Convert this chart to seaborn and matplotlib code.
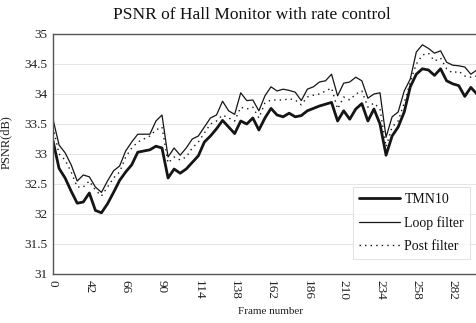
import numpy as np
import pandas as pd
import matplotlib
matplotlib.use("Agg")
import matplotlib.pyplot as plt
import seaborn as sns

# PSNR per coded frame (sample index along the sequence)
tmn10 = [33.22, 32.76, 32.60, 32.38, 32.18, 32.20, 32.35, 32.06, 32.02, 32.17,
         32.36, 32.56, 32.70, 32.82, 33.03, 33.05, 33.07, 33.13, 33.10, 32.60,
         32.75, 32.68, 32.75, 32.86, 32.97, 33.20, 33.30, 33.42, 33.56, 33.45,
         33.34, 33.55, 33.50, 33.60, 33.40, 33.60, 33.76, 33.65, 33.62, 33.68,
         33.62, 33.64, 33.72, 33.76, 33.80, 33.83, 33.86, 33.55, 33.72, 33.58,
         33.75, 33.84, 33.55, 33.75, 33.50, 32.98, 33.30, 33.45, 33.70, 34.12,
         34.33, 34.42, 34.40, 34.31, 34.42, 34.22, 34.17, 34.14, 33.96, 34.11,
         34.00, 34.20]
loop_filter = [33.58, 33.15, 33.02, 32.82, 32.55, 32.65, 32.62, 32.45, 32.36, 32.55,
               32.72, 32.80, 33.05, 33.20, 33.33, 33.33, 33.33, 33.55, 33.65, 32.95,
               33.10, 32.98, 33.10, 33.25, 33.30, 33.45, 33.60, 33.65, 33.88, 33.72,
               33.66, 34.02, 33.89, 33.90, 33.72, 33.97, 34.12, 34.05, 34.08, 34.06,
               34.03, 33.89, 34.08, 34.12, 34.20, 34.22, 34.33, 33.97, 34.18, 34.20,
               34.28, 34.22, 33.93, 34.00, 34.02, 33.28, 33.62, 33.70, 34.05, 34.25,
               34.70, 34.82, 34.76, 34.68, 34.72, 34.53, 34.48, 34.47, 34.45, 34.33,
               34.40, 34.45]
post_filter = [33.45, 33.00, 32.90, 32.70, 32.45, 32.45, 32.55, 32.40, 32.30, 32.45,
               32.60, 32.70, 32.95, 33.10, 33.20, 33.25, 33.30, 33.40, 33.45, 32.85,
               32.95, 32.90, 32.95, 33.10, 33.20, 33.35, 33.50, 33.55, 33.65, 33.60,
               33.55, 33.78, 33.75, 33.78, 33.60, 33.85, 33.90, 33.90, 33.90, 33.92,
               33.90, 33.82, 33.95, 33.98, 34.00, 34.05, 34.10, 33.75, 33.95, 33.90,
               34.00, 34.05, 33.78, 33.85, 33.75, 33.12, 33.45, 33.55, 33.85, 34.20,
               34.50, 34.65, 34.68, 34.55, 34.60, 34.42, 34.35, 34.38, 34.30, 34.28,
               34.30, 34.35]

frame_labels = ["0", "42", "66", "90", "114", "138", "162", "186", "210", "234", "258", "282"]
ytick_values = [31, 31.5, 32, 32.5, 33, 33.5, 34, 34.5, 35]
ytick_labels = ["31", "31.5", "32", "32.5", "33", "33.5", "34", "34.5", "35"]
series_names = ["TMN10", "Loop filter", "Post filter"]

sns.set_theme(style="white")
plt.rcParams["font.family"] = ["Liberation Serif", "DejaVu Serif"]

W, H = 476, 323
fig = plt.figure(figsize=(W / 100, H / 100), dpi=100)
ax = fig.add_axes([53 / W, (H - 274) / H, (489 - 53) / W, 240 / H])

idx = np.arange(len(tmn10))
df = pd.DataFrame({"idx": idx, "TMN10": tmn10, "Loop filter": loop_filter,
                   "Post filter": post_filter})

ink = "#151515"
sns.lineplot(data=df, x="idx", y="TMN10", ax=ax, color=ink, lw=2.0, label=series_names[0])
sns.lineplot(data=df, x="idx", y="Loop filter", ax=ax, color=ink, lw=0.9, label=series_names[1])
sns.lineplot(data=df, x="idx", y="Post filter", ax=ax, color=ink, lw=1.0,
             linestyle=(0, (1, 3)), label=series_names[2])

ax.set_xlim(0, 72)
ax.set_ylim(31, 35)
ax.set_yticks(ytick_values)
ax.set_yticklabels(ytick_labels, fontsize=9.5, color="#222222")
ax.set_xticks(np.arange(0, 6 * len(frame_labels), 6))
ax.set_xticklabels(frame_labels, rotation=-90, fontsize=9.5, color="#222222")
ax.tick_params(axis="both", length=0, pad=4)

ax.grid(axis="y", color="#e4e4e4", lw=0.7)
ax.grid(axis="x", visible=False)
for side in ["left", "bottom", "top"]:
    ax.spines[side].set_color("#555555")
    ax.spines[side].set_linewidth(1.0)
ax.spines["right"].set_visible(False)

ax.set_xlabel("Frame number", fontsize=8, color="#222222", labelpad=5)
ax.set_ylabel("PSNR(dB)", fontsize=9, color="#222222", labelpad=2)
ax.yaxis.set_label_coords(-0.095, 0.55)

fig.text(252 / W, 1 - 15 / H, "PSNR of Hall Monitor with rate control",
         ha="center", va="center", fontsize=12.5, color="#111111")

leg = ax.legend(loc="upper left", bbox_to_anchor=(353 / W, 1 - 187 / H),
                bbox_transform=fig.transFigure, frameon=True, fancybox=False,
                fontsize=10, handlelength=3.0, handletextpad=0.3,
                labelspacing=0.75, borderpad=0.4, borderaxespad=0)
leg.get_frame().set_edgecolor("#dddddd")
leg.get_frame().set_linewidth(0.8)
for t in leg.get_texts():
    t.set_color("#111111")

fig.savefig("out.png", dpi=100)
